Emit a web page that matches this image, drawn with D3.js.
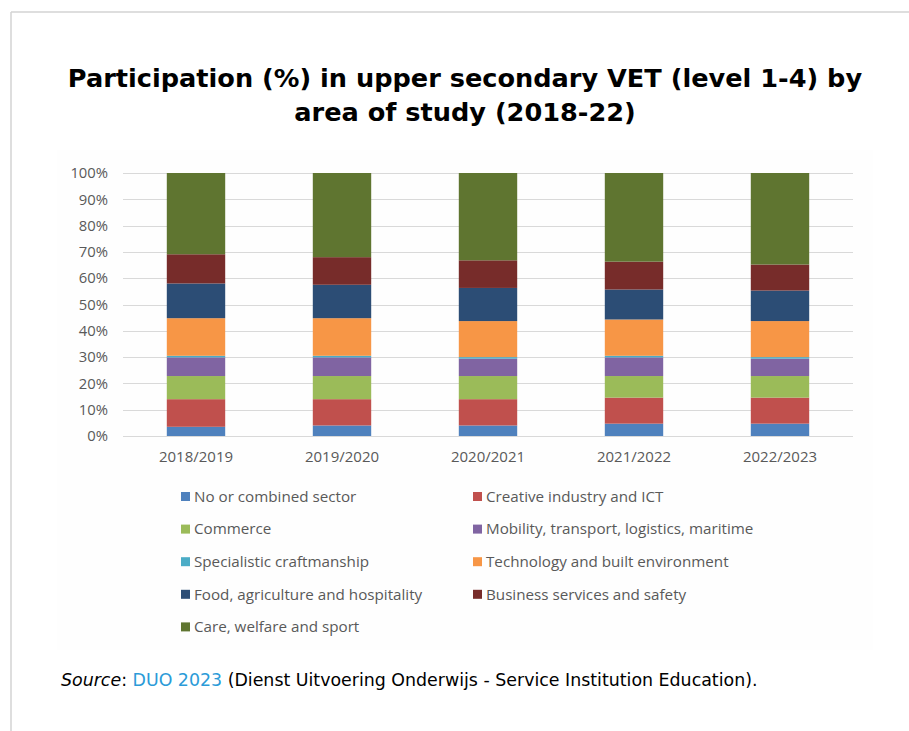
<!DOCTYPE html>
<html>
<head>
<meta charset="utf-8">
<script src="https://cdn.jsdelivr.net/npm/d3@7"></script>
<style>
  html, body { margin: 0; padding: 0; background: #ffffff; }
  svg { display: block; }
</style>
</head>
<body>
<svg id="chart" width="909" height="731"></svg>
<script>
// School years on the x axis
const years = ["2018/2019", "2019/2020", "2020/2021", "2021/2022", "2022/2023"];

// Areas of study, stacked bottom to top
const areas = [
  "No or combined sector",
  "Creative industry and ICT",
  "Commerce",
  "Mobility, transport, logistics, maritime",
  "Specialistic craftmanship",
  "Technology and built environment",
  "Food, agriculture and hospitality",
  "Business services and safety",
  "Care, welfare and sport"
];

// Share of participants (%) per area, one value per school year
const noCombined   = [3.5, 4.0, 4.0, 4.7, 4.7];
const creativeICT  = [10.5, 10.0, 10.0, 9.9, 9.9];
const commerce     = [8.8, 8.8, 8.8, 8.2, 8.2];
const mobility     = [7.1, 7.1, 6.6, 7.1, 6.6];
const craftmanship = [0.6, 0.6, 0.6, 0.6, 0.6];
const technology   = [14.3, 14.3, 13.7, 13.8, 13.7];
const food         = [13.2, 12.7, 12.6, 11.4, 11.6];
const business     = [11.1, 10.5, 10.5, 10.6, 9.9];
const care         = [30.9, 32.0, 33.2, 33.7, 34.8];

const seriesValues = [noCombined, creativeICT, commerce, mobility, craftmanship,
                      technology, food, business, care];

const colors = ["#4f81bd", "#c0504d", "#9bbb59", "#8064a2", "#4bacc6",
                "#f79646", "#2c4d75", "#772c2a", "#5f7530"];

const yTicks = [0, 10, 20, 30, 40, 50, 60, 70, 80, 90, 100];

// Build rows for d3.stack
const rows = years.map((yr, i) => {
  const r = { year: yr };
  areas.forEach((a, k) => { r[a] = seriesValues[k][i]; });
  return r;
});

const svg = d3.select("#chart");

// Page frame (top and left rule)
svg.append("line").attr("x1", 11).attr("y1", 12).attr("x2", 909).attr("y2", 12)
  .attr("stroke", "#d3d3d3").attr("stroke-width", 1.5);
svg.append("line").attr("x1", 11).attr("y1", 12).attr("x2", 11).attr("y2", 731)
  .attr("stroke", "#d3d3d3").attr("stroke-width", 1.5);

// Chart panel
svg.append("rect").attr("x", 57).attr("y", 150).attr("width", 816).attr("height", 500)
  .attr("fill", "#fefefe");

// Title
const title = svg.append("text")
  .attr("text-anchor", "middle")
  .attr("font-family", "DejaVu Sans")
  .attr("font-weight", "bold")
  .attr("font-size", 25.6)
  .attr("fill", "#000");
title.append("tspan").attr("x", 465).attr("y", 87)
  .text("Participation (%) in upper secondary VET (level 1-4) by");
title.append("tspan").attr("x", 465).attr("y", 121)
  .text("area of study (2018-22)");

// Scales
const x = d3.scaleBand().domain(years).range([123, 853])
  .paddingInner(0.6).paddingOuter(0.3);
const y = d3.scaleLinear().domain([0, 100]).range([436, 173]);

const labelFont = "'Open Sans', sans-serif";
const labelColor = "#595959";

// Gridlines
svg.append("g").selectAll("line").data(yTicks).join("line")
  .attr("x1", 123).attr("x2", 853)
  .attr("y1", d => Math.round(y(d)) + 0.5).attr("y2", d => Math.round(y(d)) + 0.5)
  .attr("stroke", "#d9d9d9").attr("stroke-width", 1);

// Y axis labels
const yAxis = svg.append("g").attr("transform", "translate(108,0)")
  .call(d3.axisLeft(y).tickValues(yTicks).tickFormat(d => d + "%").tickSize(0).tickPadding(0));
yAxis.select(".domain").remove();
yAxis.selectAll("text")
  .attr("font-family", labelFont).attr("font-size", 14.8).attr("fill", labelColor);

// X axis labels
const xAxis = svg.append("g").attr("transform", "translate(0,448)")
  .call(d3.axisBottom(x).tickSize(0).tickPadding(0));
xAxis.select(".domain").remove();
xAxis.selectAll("text")
  .attr("font-family", labelFont).attr("font-size", 15).attr("fill", labelColor)
  .attr("dy", "0.9em");

// Stacked bars
const stacked = d3.stack().keys(areas)(rows);
svg.append("g").selectAll("g").data(stacked).join("g")
  .attr("fill", (d, i) => colors[i])
  .selectAll("rect").data(d => d).join("rect")
  .attr("x", d => x(d.data.year))
  .attr("width", x.bandwidth())
  .attr("y", d => y(d[1]))
  .attr("height", d => y(d[0]) - y(d[1]));

// Legend: two columns, filled row by row
const legend = svg.append("g");
areas.forEach((a, i) => {
  const col = i % 2, row = Math.floor(i / 2);
  const lx = col === 0 ? 181 : 473;
  const ly = 496.5 + row * 32.6;
  legend.append("rect").attr("x", lx).attr("y", ly - 4.5)
    .attr("width", 9).attr("height", 9).attr("fill", colors[i]);
  legend.append("text").attr("x", lx + 13).attr("y", ly).attr("dy", "0.35em")
    .attr("font-family", labelFont).attr("font-size", 15.2).attr("fill", labelColor)
    .text(a);
});

// Source line
const src = svg.append("text").attr("x", 61).attr("y", 686)
  .attr("font-family", "DejaVu Sans").attr("font-size", 17.4).attr("fill", "#000");
src.append("tspan").attr("font-style", "italic").text("Source");
src.append("tspan").text(": ");
src.append("tspan").attr("fill", "#2b9bd8").text("DUO 2023");
src.append("tspan").text(" (Dienst Uitvoering Onderwijs - Service Institution Education).");
</script>
</body>
</html>
